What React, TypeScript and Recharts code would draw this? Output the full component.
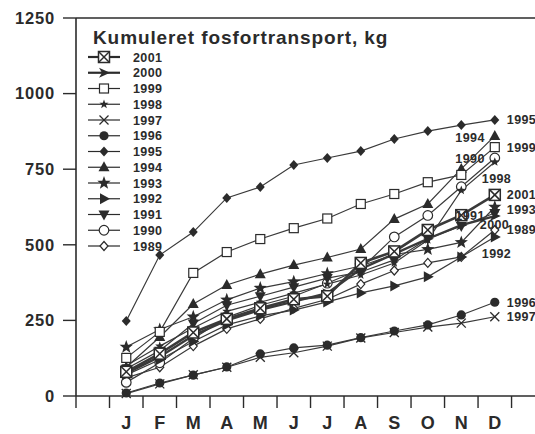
import { LineChart, Line, XAxis, YAxis, ReferenceLine } from "recharts";

const months = ["J", "F", "M", "A", "M", "J", "J", "A", "S", "O", "N", "D"];
const yTicks = [0, 250, 500, 750, 1000, 1250];
const bandTicks = [0, 1, 2, 3, 4, 5, 6, 7, 8, 9, 10, 11, 12, 13];
const monthTicks = [1.5, 2.5, 3.5, 4.5, 5.5, 6.5, 7.5, 8.5, 9.5, 10.5, 11.5, 12.5];

// cumulative phosphorus transport, kg, per month
const v2001 = [80, 140, 210, 255, 290, 320, 330, 440, 478, 549, 598, 665];
const v2000 = [75, 130, 200, 250, 285, 312, 340, 420, 470, 520, 565, 595];
const v1999 = [126, 212, 407, 476, 519, 555, 587, 635, 668, 707, 731, 823];
const v1998 = [100, 165, 225, 280, 310, 340, 370, 400, 440, 516, 680, 774];
const v1997 = [8, 40, 70, 95, 128, 143, 165, 192, 210, 228, 241, 262];
const v1996 = [10, 43, 69, 96, 139, 159, 168, 193, 215, 235, 268, 310];
const v1995 = [248, 466, 542, 655, 691, 764, 787, 810, 850, 876, 896, 913];
const v1994 = [95, 195, 304, 367, 403, 433, 458, 486, 585, 635, 751, 860];
const v1993 = [162, 220, 262, 318, 357, 378, 405, 430, 468, 485, 508, 625];
const v1992 = [70, 120, 180, 235, 265, 284, 311, 341, 364, 394, 460, 526];
const v1991 = [90, 150, 240, 300, 330, 360, 390, 410, 450, 520, 562, 605];
const v1990 = [45, 110, 190, 260, 300, 330, 373, 420, 526, 597, 692, 787];
const v1989 = [60, 95, 165, 222, 255, 290, 320, 370, 415, 440, 460, 549];

const series = [
  { year: 2001, values: v2001, marker: "boxX", width: 2.6, dx: 12, dy: 0, anchor: "start" },
  { year: 2000, values: v2000, marker: "arrow", width: 2.4, dx: -15, dy: 8, anchor: "start" },
  { year: 1999, values: v1999, marker: "square", width: 1.2, dx: 12, dy: 0, anchor: "start" },
  { year: 1998, values: v1998, marker: "starSmall", width: 1.2, dx: -13, dy: 17, anchor: "start" },
  { year: 1997, values: v1997, marker: "x", width: 1.2, dx: 12, dy: 0, anchor: "start" },
  { year: 1996, values: v1996, marker: "circle", width: 1.2, dx: 12, dy: 0, anchor: "start" },
  { year: 1995, values: v1995, marker: "diamond", width: 1.2, dx: 12, dy: 0, anchor: "start" },
  { year: 1994, values: v1994, marker: "triUp", width: 1.2, dx: -10, dy: 2, anchor: "end" },
  { year: 1993, values: v1993, marker: "star", width: 1.2, dx: 12, dy: 2, anchor: "start" },
  { year: 1992, values: v1992, marker: "triRight", width: 1.2, dx: -13, dy: 17, anchor: "start" },
  { year: 1991, values: v1991, marker: "triDown", width: 1.2, dx: -10, dy: 2, anchor: "end" },
  { year: 1990, values: v1990, marker: "circleOpen", width: 1.2, dx: -10, dy: 0, anchor: "end" },
  { year: 1989, values: v1989, marker: "diamondOpen", width: 1.2, dx: 12, dy: 0, anchor: "start" },
];

const data = months.map((label, i) => {
  const row: any = { pos: i + 1.5, label };
  series.forEach((s) => (row["y" + s.year] = s.values[i]));
  return row;
});

const INK = "#2b2b2b";
const FONT = "'Liberation Sans', Arial, Helvetica, sans-serif";

function starPath(cx: number, cy: number, ro: number, ri: number) {
  let d = "";
  for (let k = 0; k < 10; k++) {
    const r = k % 2 === 0 ? ro : ri;
    const a = -Math.PI / 2 + (k * Math.PI) / 5;
    d += (k === 0 ? "M" : "L") + (cx + r * Math.cos(a)).toFixed(2) + "," + (cy + r * Math.sin(a)).toFixed(2);
  }
  return d + "Z";
}

function Marker({ kind, cx, cy }: { kind: string; cx: number; cy: number }) {
  switch (kind) {
    case "boxX":
      return (
        <g stroke={INK} strokeWidth={1.5}>
          <rect x={cx - 5.5} y={cy - 5.5} width={11} height={11} fill="#fff" />
          <line x1={cx - 5.5} y1={cy - 5.5} x2={cx + 5.5} y2={cy + 5.5} />
          <line x1={cx + 5.5} y1={cy - 5.5} x2={cx - 5.5} y2={cy + 5.5} />
        </g>
      );
    case "arrow":
      return <path d={`M${cx + 6},${cy} L${cx - 5},${cy - 5} L${cx - 2},${cy} L${cx - 5},${cy + 5} Z`} fill={INK} />;
    case "square":
      return <rect x={cx - 4.5} y={cy - 4.5} width={9} height={9} fill="#fff" stroke={INK} strokeWidth={1.2} />;
    case "starSmall":
      return <path d={starPath(cx, cy, 4.8, 2)} fill={INK} />;
    case "x":
      return (
        <g stroke={INK} strokeWidth={1.3}>
          <line x1={cx - 4.5} y1={cy - 4.5} x2={cx + 4.5} y2={cy + 4.5} />
          <line x1={cx + 4.5} y1={cy - 4.5} x2={cx - 4.5} y2={cy + 4.5} />
        </g>
      );
    case "circle":
      return <circle cx={cx} cy={cy} r={4.6} fill={INK} />;
    case "diamond":
      return <path d={`M${cx},${cy - 5} L${cx + 4.5},${cy} L${cx},${cy + 5} L${cx - 4.5},${cy} Z`} fill={INK} />;
    case "triUp":
      return <path d={`M${cx},${cy - 6} L${cx + 5.5},${cy + 4} L${cx - 5.5},${cy + 4} Z`} fill={INK} />;
    case "star":
      return <path d={starPath(cx, cy, 7, 2.9)} fill={INK} />;
    case "triRight":
      return <path d={`M${cx + 6},${cy} L${cx - 4},${cy - 5.5} L${cx - 4},${cy + 5.5} Z`} fill={INK} />;
    case "triDown":
      return <path d={`M${cx},${cy + 6} L${cx + 5.5},${cy - 4} L${cx - 5.5},${cy - 4} Z`} fill={INK} />;
    case "circleOpen":
      return <circle cx={cx} cy={cy} r={4.8} fill="#fff" stroke={INK} strokeWidth={1.2} />;
    case "diamondOpen":
      return <path d={`M${cx},${cy - 4.5} L${cx + 4},${cy} L${cx},${cy + 4.5} L${cx - 4},${cy} Z`} fill="#fff" stroke={INK} strokeWidth={1.2} />;
    default:
      return null;
  }
}

function LegendBlock() {
  return (
    <svg width={535} height={434} style={{ position: "absolute", left: 0, top: 0, pointerEvents: "none" }}>
      <text x={93} y={44} fontFamily={FONT} fontWeight="bold" fontSize={19} letterSpacing={0.9} fill={INK}>
        Kumuleret fosfortransport, kg
      </text>
      {series.map((s, i) => {
        const y = 57 + i * 15.75;
        return (
          <g key={s.year}>
            <line x1={88} x2={120} y1={y} y2={y} stroke={INK} strokeWidth={s.width > 2 ? 2.2 : 1.2} />
            <Marker kind={s.marker} cx={104} cy={y} />
            <text x={133} y={y} dy="0.36em" fontFamily={FONT} fontWeight="bold" fontSize={12.5} letterSpacing={0.4} fill={INK}>
              {s.year}
            </text>
          </g>
        );
      })}
    </svg>
  );
}

export default function App() {
  const drawOrder = [...series].reverse();
  return (
    <div style={{ position: "relative", width: 535, height: 434, background: "#fff" }}>
      <style>{"body{margin:0;background:#fff}"}</style>
      <LineChart width={535} height={434} data={data} margin={{ top: 18, right: 0, left: 0, bottom: 0 }}>
        <XAxis
          xAxisId={0}
          dataKey="pos"
          type="number"
          domain={[0, 13.7]}
          allowDataOverflow
          ticks={bandTicks}
          interval={0}
          tickSize={12}
          tickFormatter={() => ""}
          height={14}
          axisLine={{ stroke: INK, strokeWidth: 1.6 }}
          tickLine={{ stroke: INK, strokeWidth: 1.4 }}
        />
        <XAxis
          xAxisId="m"
          dataKey="pos"
          type="number"
          domain={[0, 13.7]}
          allowDataOverflow
          ticks={monthTicks}
          interval={0}
          tickSize={0}
          tickMargin={6}
          height={24}
          axisLine={false}
          tickLine={false}
          tickFormatter={(v: number) => months[Math.round(v - 1.5)]}
          tick={{ fill: INK, fontSize: 18, fontWeight: "bold", fontFamily: FONT }}
        />
        <YAxis
          domain={[0, 1250]}
          ticks={yTicks}
          interval={0}
          width={76}
          tickSize={13}
          tickMargin={8}
          axisLine={{ stroke: INK, strokeWidth: 1.6 }}
          tickLine={{ stroke: INK, strokeWidth: 1.4 }}
          tick={{ fill: INK, fontSize: 16.5, fontWeight: "bold", fontFamily: FONT, letterSpacing: 0.8 }}
        />
        <ReferenceLine xAxisId={0} y={1250} stroke={INK} strokeWidth={1.6} />
        {drawOrder.map((s) => (
          <Line
            key={s.year}
            xAxisId={0}
            type="linear"
            dataKey={"y" + s.year}
            stroke="#3a3a3a"
            strokeWidth={s.width}
            isAnimationActive={false}
            dot={(p: any) => (
              <g key={`${s.year}-${p.index}`}>
                <Marker kind={s.marker} cx={p.cx} cy={p.cy} />
              </g>
            )}
            activeDot={false}
            label={(p: any) =>
              p.index === months.length - 1 ? (
                <text
                  key={`lab-${s.year}`}
                  x={p.x + s.dx}
                  y={p.y + s.dy}
                  dy="0.36em"
                  textAnchor={s.anchor}
                  fontFamily={FONT}
                  fontWeight="bold"
                  fontSize={12.5}
                  letterSpacing={0.4}
                  fill={INK}
                >
                  {s.year}
                </text>
              ) : (
                <g key={`lab-${s.year}-${p.index}`} />
              )
            }
          />
        ))}
      </LineChart>
      <LegendBlock />
    </div>
  );
}
